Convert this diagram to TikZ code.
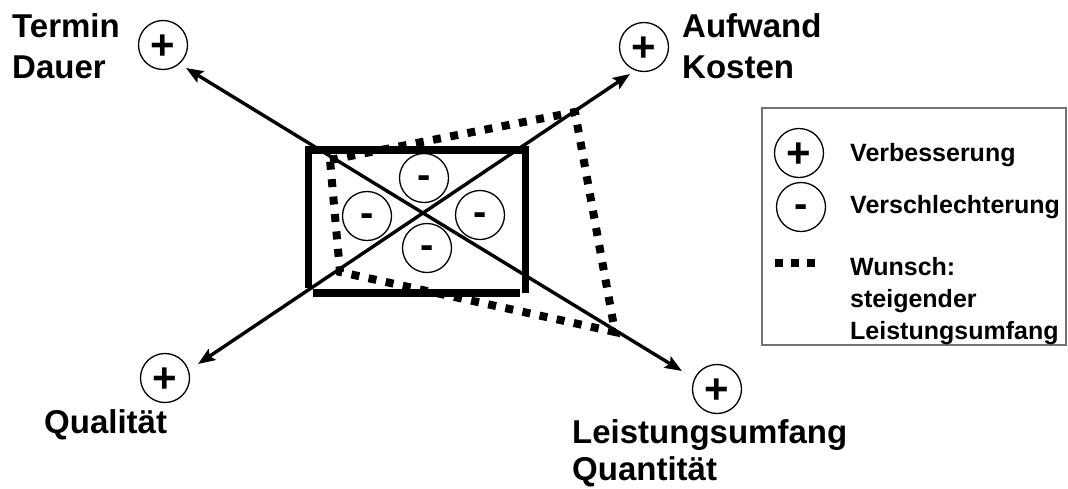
\documentclass[tikz,border=0pt]{standalone}
\usepackage{fontspec}
\setmainfont{Liberation Sans}
\usetikzlibrary{arrows.meta}
% glyphs centred on their own visual middle inside the circles
\newcommand{\plusglyph}{{\fontsize{42}{42}\selectfont\raisebox{0pt}[0.667em][0pt]{+}}}
\newcommand{\minusglyph}{{\fontsize{40}{40}\selectfont\raisebox{0pt}[0.527em][0pt]{-}}}
\begin{document}
\begin{tikzpicture}[x=1pt,y=-1pt,
  signcirc/.style={circle,draw,fill=white,line width=1.3pt,minimum size=49pt,inner sep=0pt,
    font=\bfseries},
  axisarrow/.style={line width=3.4pt,-{Stealth[length=17pt,width=13pt,inset=3pt]}},
  bigtext/.style={anchor=base west,inner sep=0pt,font=\fontsize{33}{33}\selectfont\bfseries},
  legtext/.style={anchor=base west,inner sep=0pt,font=\fontsize{25}{25}\selectfont\bfseries},
  wish/.style={line width=8pt,dash pattern=on 8pt off 9.5pt},
  legwish/.style={line width=8pt,dash pattern=on 8pt off 8pt},
  framestroke/.style={line width=7.5pt}
]
\useasboundingbox (0,0) rectangle (1068,488);

% desired, enlarged scope (dotted quadrilateral)
\draw[wish] (330,160) -- (575,112) -- (615,332) -- (340,272) -- cycle;

% current project frame, drawn as four separate strokes
\draw[framestroke] (305,150) -- (529,150);
\draw[framestroke] (308.5,150) -- (308.5,288);
\draw[framestroke] (525.5,150) -- (525.5,293);
\draw[framestroke] (313,293) -- (520,293);

% axes through the centre
\coordinate (c) at (423,213);
\coordinate (tT) at (186,68);
\coordinate (tA) at (630,74);
\coordinate (tQ) at (198,364);
\coordinate (tL) at (682,371);
\draw[axisarrow] (c) -- (tT);
\draw[axisarrow] (c) -- (tA);
\draw[axisarrow] (c) -- (tQ);
\draw[axisarrow] (c) -- (tL);

% improvement markers at the axis ends
\node[signcirc] (pT) at (163,45) {\plusglyph};
\node[signcirc] (pA) at (644,47) {\plusglyph};
\node[signcirc] (pQ) at (165,378) {\plusglyph};
\node[signcirc] (pL) at (717,389) {\plusglyph};

% deterioration markers around the centre
\node[signcirc] (mTop) at (424,178) {\minusglyph};
\node[signcirc] (mLeft) at (367,216) {\minusglyph};
\node[signcirc] (mRight) at (480,215) {\minusglyph};
\node[signcirc] (mBot) at (427,248) {\minusglyph};

% axis labels
\node[bigtext] (termin) at (12,37) {Termin};
\node[bigtext] (dauer) at (12,78) {Dauer};
\node[bigtext] (aufwand) at (682,37) {Aufwand};
\node[bigtext] (kosten) at (682,78) {Kosten};
\node[bigtext] (qual) at (44,433) {Qualität};
\node[bigtext] (leist) at (572,443) {Leistungsumfang};
\node[bigtext] (quant) at (572,480) {Quantität};

% legend
\draw[gray!90!black,line width=1.3pt] (762,108) rectangle (1066,345);
\node[signcirc] (lgPlus) at (799,153) {\plusglyph};
\node[signcirc] (lgMinus) at (801,207) {\minusglyph};
\draw[legwish] (775,263) -- (815,263);
\node[legtext] (lgV) at (850,161) {Verbesserung};
\node[legtext] (lgS) at (850,213) {Verschlechterung};
\node[legtext] (lgW1) at (850,275) {Wunsch:};
\node[legtext] (lgW2) at (850,307) {steigender};
\node[legtext] (lgW3) at (850,339) {Leistungsumfang};
\end{tikzpicture}
\end{document}
